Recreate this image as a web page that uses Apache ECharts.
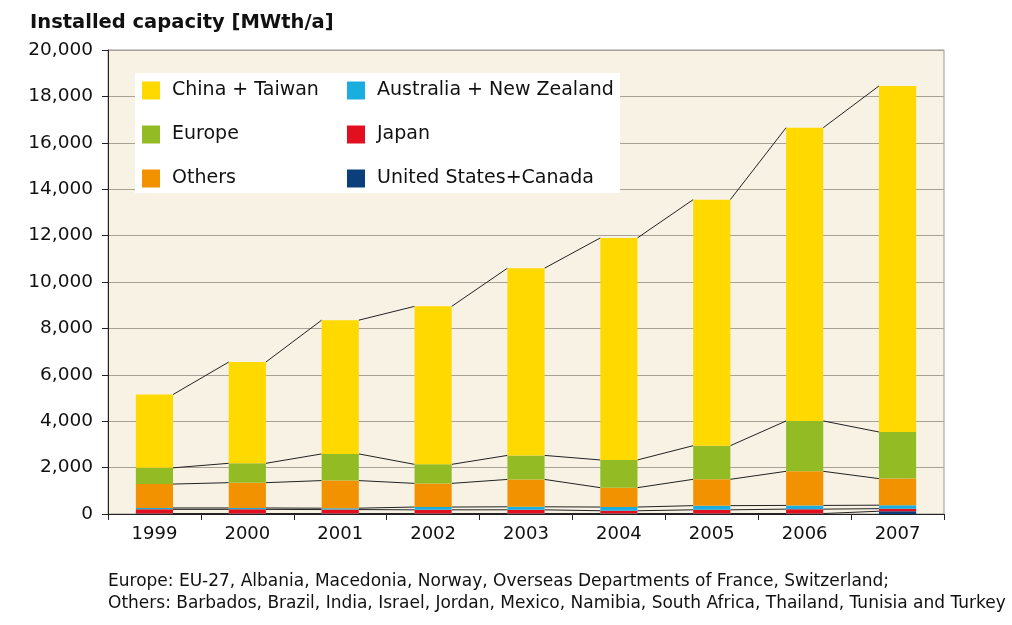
<!DOCTYPE html>
<html>
<head>
<meta charset="utf-8">
<script src="https://cdn.jsdelivr.net/npm/echarts@6/dist/echarts.min.js"></script>
<style>
html,body{margin:0;padding:0;background:#fff;}
#chart{width:1012px;height:625px;}
</style>
</head>
<body>
<div id="chart"></div>
<script>
const years = ['1999','2000','2001','2002','2003','2004','2005','2006','2007'];
const usCanada = [20, 20, 20, 20, 20, 20, 20, 20, 120];
const japan    = [180, 180, 170, 160, 160, 120, 160, 190, 110];
const ausNz    = [60, 60, 60, 120, 130, 160, 180, 160, 150];
const others   = [1030, 1090, 1190, 1020, 1180, 835, 1135, 1470, 1145];
const europe   = [700, 835, 1150, 820, 1035, 1195, 1450, 2170, 2010];
const china    = [3160, 4365, 5765, 6810, 8070, 9570, 10605, 12640, 14915];
const yTicks = [0, 2000, 4000, 6000, 8000, 10000, 12000, 14000, 16000, 18000, 20000];
const footnotes = [
  'Europe: EU-27, Albania, Macedonia, Norway, Overseas Departments of France, Switzerland;',
  'Others: Barbados, Brazil, India, Israel, Jordan, Mexico, Namibia, South Africa, Thailand, Tunisia and Turkey'
];

const FONT = 'DejaVu Sans';
const stackOrder = [
  {name:'United States+Canada', data:usCanada, color:'#0B3F7C'},
  {name:'Japan', data:japan, color:'#E2101F'},
  {name:'Australia + New Zealand', data:ausNz, color:'#1AAEE0'},
  {name:'Others', data:others, color:'#F39200'},
  {name:'Europe', data:europe, color:'#92BB24'},
  {name:'China + Taiwan', data:china, color:'#FFD900'}
];
// cumulative tops for series lines
const cum = [];
let run = years.map(()=>0);
stackOrder.forEach(s => { run = run.map((v,i)=>v + s.data[i]); cum.push(run.slice()); });

const chart = echarts.init(document.getElementById('chart'), null, {renderer:'canvas'});
const barSeries = stackOrder.map(s => ({
  name: s.name, type: 'bar', stack: 'total', data: s.data, barWidth: '40%',
  itemStyle: {color: s.color}, z: 3
}));
const lineSeries = {
  type: 'custom', name: 'serieslines', silent: true, z: 2,
  data: years.map((y,i)=>[i]),
  encode: {x: 0},
  renderItem: function(params, api) {
    const i = api.value(0);
    if (i >= years.length - 1) return null;
    const bw = api.size([1, 0])[0] * 0.4;
    const children = cum.map(c => {
      const p1 = api.coord([i, c[i]]);
      const p2 = api.coord([i + 1, c[i + 1]]);
      return {type:'line', shape:{x1:p1[0] + bw/2, y1:p1[1], x2:p2[0] - bw/2, y2:p2[1]},
              style:{stroke:'#222', lineWidth:1}};
    });
    return {type:'group', children: children};
  }
};

const legendText = {fontFamily: FONT, fontSize: 19, color: '#111', lineHeight: 18, padding: [0, 0, 0, 7]};
chart.setOption({
  animation: false,
  backgroundColor: '#ffffff',
  title: [
    {text: 'Installed capacity [MWth/a]', left: 25, top: 8,
     textStyle: {fontFamily: FONT, fontSize: 19.5, fontWeight: 'bold', color: '#111'}},
    {text: footnotes.join('\n'), left: 108, top: 571, padding: 0,
     textStyle: {fontFamily: FONT, fontSize: 17, fontWeight: 'normal', color: '#111', lineHeight: 21.5}}
  ],
  grid: {left: 108, right: 68, top: 50, bottom: 111, show: true,
    backgroundColor: '#F7F2E3', borderColor: '#9a9a9a', borderWidth: 1},
  graphic: [
    {type:'rect', shape:{x:135, y:73, width:485, height:120}, style:{fill:'#ffffff'}, z: 10}
  ],
  legend: [
    {orient:'vertical', left: 142, top: 81, padding: 0, itemGap: 25, itemWidth: 18, itemHeight: 18,
     icon: 'rect', z: 20, selectedMode: false,
     data: ['China + Taiwan', 'Europe', 'Others'], textStyle: legendText},
    {orient:'vertical', left: 347, top: 81, padding: 0, itemGap: 25, itemWidth: 18, itemHeight: 18,
     icon: 'rect', z: 20, selectedMode: false,
     data: ['Australia + New Zealand', 'Japan', 'United States+Canada'], textStyle: legendText}
  ],
  xAxis: {
    type: 'category', data: years,
    axisLine: {lineStyle: {color: '#222', width: 1}},
    axisTick: {show: true, length: 6, lineStyle: {color: '#222'}},
    axisLabel: {fontFamily: FONT, fontSize: 18, color: '#111', margin: 11}
  },
  yAxis: {
    type: 'value', min: 0, max: 20000, interval: 2000,
    axisLine: {show: true, lineStyle: {color: '#222', width: 1}},
    axisTick: {show: true, length: 6, lineStyle: {color: '#222'}},
    axisLabel: {fontFamily: FONT, fontSize: 18.5, color: '#111', margin: 15,
      formatter: v => v.toLocaleString('en-US')},
    splitLine: {show: true, lineStyle: {color: '#A8A296', width: 1}}
  },
  series: barSeries.concat([lineSeries])
});
</script>
</body>
</html>
